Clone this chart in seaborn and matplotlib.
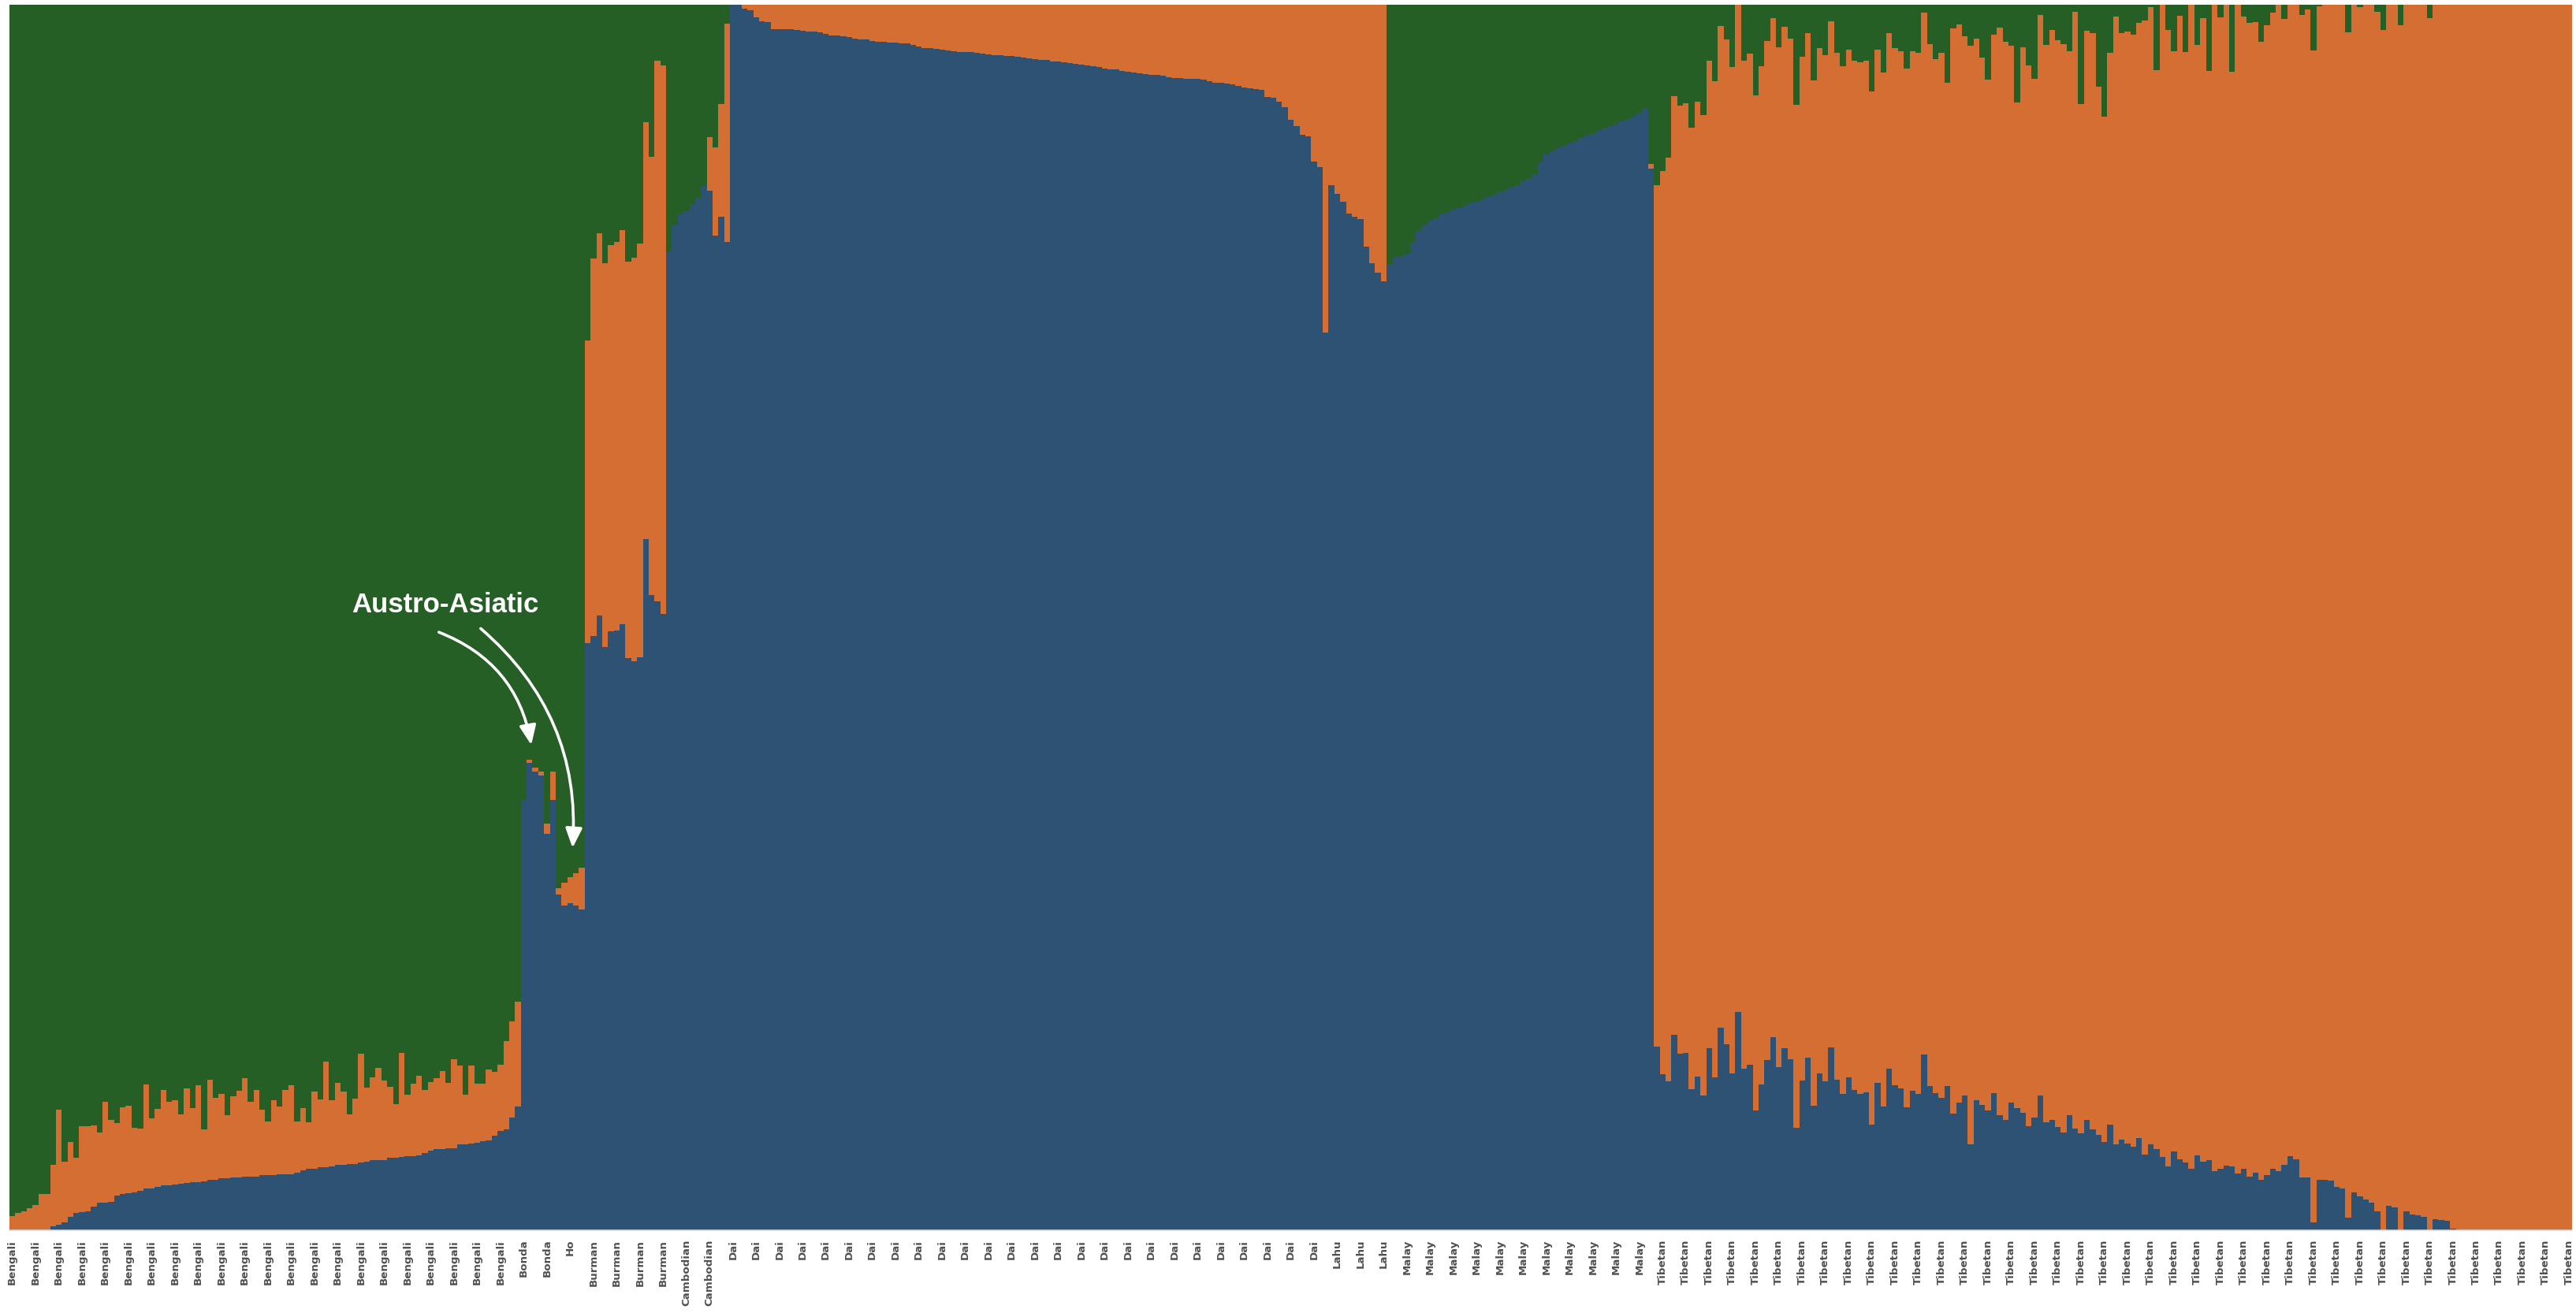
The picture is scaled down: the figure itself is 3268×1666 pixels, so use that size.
import numpy as np
import matplotlib
matplotlib.use("Agg")
import matplotlib.pyplot as plt
import seaborn as sns

# ancestry fractions: per individual, the height of the
# blue block and the height of blue+orange (green fills the rest up to 1)
bengali_blue = [0, 0, 0, 0, 0, 0, 0, 0.003, 0.0045, 0.0064, 0.011, 0.0144, 0.0148, 0.0154,
                0.0195, 0.0227, 0.0227, 0.0234, 0.0285, 0.0298, 0.0304, 0.031, 0.0324, 0.0343,
                0.0343, 0.0356, 0.0369, 0.0369, 0.0375, 0.0381, 0.0388, 0.0394, 0.0394, 0.04,
                0.0414, 0.0414, 0.0427, 0.0427, 0.0433, 0.0433, 0.0439, 0.0439, 0.0439, 0.0452,
                0.0452, 0.0452, 0.0459, 0.0459, 0.0459, 0.0471, 0.049, 0.0504, 0.0504, 0.0515,
                0.0515, 0.0521, 0.0534, 0.0534, 0.054, 0.054, 0.0553, 0.0559, 0.0572, 0.0572,
                0.0572, 0.0592, 0.0592, 0.0598, 0.0605, 0.0605, 0.0611, 0.063, 0.065, 0.0662,
                0.0662, 0.0669, 0.0669, 0.0701, 0.0701, 0.0707, 0.0714, 0.0727, 0.0733, 0.0772,
                0.081, 0.0823, 0.092, 0.101]
bengali_top = [0.0118, 0.0144, 0.0157, 0.0182, 0.0206, 0.0298, 0.0298, 0.0536, 0.0984, 0.056,
               0.072, 0.059, 0.085, 0.085, 0.0857, 0.080, 0.105, 0.090, 0.0877, 0.1005, 0.1018,
               0.0838, 0.083, 0.119, 0.0915, 0.0992, 0.1145, 0.105, 0.1063, 0.0947, 0.116, 0.0999,
               0.1185, 0.0825, 0.1228, 0.108, 0.1115, 0.094, 0.1095, 0.114, 0.1243, 0.105, 0.1147,
               0.0986, 0.0889, 0.1063, 0.1012, 0.1147, 0.1185, 0.0889, 0.0997, 0.0883, 0.1134,
               0.1068, 0.1376, 0.1061, 0.1203, 0.1132, 0.0945, 0.1074, 0.144, 0.1164, 0.1248,
               0.1325, 0.1222, 0.117, 0.1029, 0.1447, 0.1106, 0.1196, 0.126, 0.1145, 0.1209,
               0.1241, 0.1299, 0.1203, 0.1396, 0.1344, 0.1106, 0.1344, 0.1196, 0.1196, 0.1312,
               0.1293, 0.135, 0.1543, 0.1704, 0.1865]

bonda_blue = [0.3511, 0.3816, 0.3743, 0.3711, 0.3237, 0.3511]
bonda_top = [0.3511, 0.3839, 0.3775, 0.3743, 0.3318, 0.3743]

ho_blue = [0.274, 0.265, 0.2669, 0.265, 0.2617]
ho_top = [0.2791, 0.2836, 0.2881, 0.2913, 0.2958]

burman_blue = [0.4793, 0.4849, 0.5015, 0.476, 0.4886, 0.4893, 0.4945, 0.4668, 0.4642, 0.4675,
               0.5639, 0.5185, 0.5133, 0.503]
burman_top = [0.7259, 0.7931, 0.8134, 0.789, 0.8038, 0.8064, 0.816, 0.7905, 0.7934, 0.8053,
              0.9042, 0.8758, 0.9544, 0.9503]

cambodian_blue = [0.7986, 0.82, 0.8289, 0.8318, 0.837, 0.8422, 0.8518, 0.8481, 0.8116, 0.827,
                  0.8064]
cambodian_top = [0.7986, 0.82, 0.8289, 0.8318, 0.837, 0.8422, 0.8518, 0.892, 0.8835, 0.919,
                 0.9847]

dai_blue = [1.0, 1.0, 0.9968, 0.9955, 0.9897, 0.9865, 0.9859, 0.98, 0.98, 0.98, 0.98, 0.9794,
            0.9788, 0.9781, 0.9781, 0.9775, 0.9762, 0.9749, 0.9749, 0.9743, 0.9736, 0.9723,
            0.9717, 0.9717, 0.9704, 0.9698, 0.9698, 0.9691, 0.9691, 0.9685, 0.9685, 0.9672,
            0.9659, 0.9646, 0.9646, 0.964, 0.9633, 0.9627, 0.962, 0.9614, 0.9614, 0.9614,
            0.9608, 0.9601, 0.9595, 0.959, 0.9588, 0.958, 0.958, 0.9575, 0.957, 0.9562, 0.9555,
            0.955, 0.955, 0.954, 0.9535, 0.953, 0.9525, 0.952, 0.951, 0.9505, 0.95, 0.949, 0.948,
            0.9475, 0.947, 0.946, 0.9455, 0.945, 0.944, 0.9435, 0.943, 0.9425, 0.942, 0.941,
            0.9405, 0.940, 0.9395, 0.9395, 0.9395, 0.9389, 0.9376, 0.9363, 0.9363, 0.9357,
            0.935, 0.9338, 0.9325, 0.9318, 0.9312, 0.9305, 0.9248, 0.9241, 0.9209, 0.9164,
            0.9061, 0.901, 0.8939, 0.8926, 0.872, 0.8675]
dai_top = [1.0] * len(dai_blue)

lahu_blue = [0.7325, 0.8527, 0.8457, 0.8392, 0.8296, 0.827, 0.8251, 0.8026, 0.789, 0.7813, 0.7743]
lahu_top = [1.0] * len(lahu_blue)

malay_blue = [0.7884, 0.7949, 0.7949, 0.7968, 0.8064, 0.8154, 0.82, 0.824, 0.826, 0.829, 0.831,
              0.833, 0.834, 0.836, 0.838, 0.839, 0.841, 0.843, 0.845, 0.847, 0.849, 0.851, 0.853,
              0.856, 0.858, 0.862, 0.872, 0.878, 0.881, 0.883, 0.885, 0.887, 0.889, 0.891, 0.893,
              0.895, 0.897, 0.899, 0.901, 0.903, 0.905, 0.907, 0.909, 0.912, 0.916, 0.866]
malay_top = malay_blue[:45] + [0.870]

tibetan_blue = [0.1498, 0.1273, 0.1215, 0.1595, 0.144, 0.1447, 0.1151, 0.1254, 0.11, 0.1486,
                0.1248, 0.1653, 0.1518, 0.128, 0.1781, 0.1318, 0.135, 0.0977, 0.119, 0.1389,
                0.1576, 0.1331, 0.1486, 0.1395, 0.0836, 0.1222, 0.1408, 0.1016, 0.128, 0.1215,
                0.1492, 0.1228, 0.1113, 0.1248, 0.1145, 0.1113, 0.1125, 0.0862, 0.1203, 0.101,
                0.1318, 0.1183, 0.1158, 0.1003, 0.1138, 0.1113, 0.1434, 0.1177,
                0.112, 0.108, 0.118, 0.095, 0.104, 0.11, 0.07, 0.106, 0.102, 0.098, 0.112, 0.094,
                0.09, 0.104, 0.1, 0.096, 0.085, 0.092, 0.11, 0.088, 0.09, 0.084, 0.08, 0.094,
                0.083, 0.079, 0.09, 0.082, 0.078, 0.072, 0.086, 0.07, 0.074, 0.071, 0.068, 0.075,
                0.062, 0.07, 0.066, 0.06, 0.052, 0.064, 0.058, 0.055, 0.05, 0.061, 0.056, 0.057,
                0.048, 0.05, 0.053, 0.052, 0.046, 0.05, 0.044, 0.047, 0.041, 0.045, 0.05, 0.048,
                0.0534, 0.0605, 0.0579, 0.0431, 0.0431, 0.0064, 0.0412,
                0.0412, 0.0405, 0.0354, 0.0341, 0.0103, 0.0309, 0.0277, 0.0251, 0.0225, 0.0154,
                0.0, 0.0199, 0.0186, 0.0, 0.0154, 0.0129, 0.0122, 0.0109, 0.0, 0.009, 0.0084,
                0.0077, 0.0013] + [0.0] * 20
tibetan_top = [0.853, 0.864, 0.875, 0.9254, 0.9179, 0.9196, 0.8997, 0.9209, 0.9102, 0.9543,
               0.9378, 0.9826, 0.9717, 0.9492, 1.0, 0.9543, 0.9601, 0.9262, 0.9498, 0.9704,
               0.9891, 0.9653, 0.982, 0.9723, 0.9185, 0.9576, 0.9768, 0.9385, 0.9646, 0.9588,
               0.9865, 0.9608, 0.9501, 0.9633, 0.9543, 0.953, 0.9543, 0.9295, 0.9633, 0.9449,
               0.9768, 0.9646, 0.962, 0.9481, 0.962, 0.9608, 0.9936, 0.9678, 0.9556, 0.9608,
               0.9365, 0.9807, 0.9839, 0.9743, 0.9668, 0.9723, 0.9571, 0.9391, 0.9758, 0.9813,
               0.97, 0.9668, 0.9205, 0.9653, 0.9505, 0.9398, 0.9916, 0.9674, 0.9794, 0.971,
               0.968, 0.9623, 0.9942, 0.9192, 0.9788, 0.9768, 0.9333, 0.9089, 0.9608, 0.9904,
               0.9768, 0.9781, 0.9758, 0.9852, 0.9873, 0.9981, 0.9466, 1.0, 0.9794, 0.9623,
               0.991, 0.9614, 1.0, 0.9674, 0.9891, 0.9462, 1.0, 0.9899, 1.0, 0.9456,
               1.0, 0.9904, 0.9854, 0.9859, 0.97, 0.9835, 0.9938, 1.0, 0.9886, 1.0,
               1.0, 0.9918, 0.9961, 0.9629, 0.9987, 1.0, 1.0, 1.0, 1.0, 0.9777,
               1.0, 0.9983, 1.0, 1.0, 0.9944, 0.9796, 1.0, 1.0, 0.9835, 1.0,
               1.0, 1.0, 1.0, 0.9893, 1.0, 1.0, 1.0, 1.0, 1.0, 1.0] + [1.0] * 18

groups = [("Bengali", bengali_blue, bengali_top),
          ("Bonda", bonda_blue, bonda_top),
          ("Ho", ho_blue, ho_top),
          ("Burman", burman_blue, burman_top),
          ("Cambodian", cambodian_blue, cambodian_top),
          ("Dai", dai_blue, dai_top),
          ("Lahu", lahu_blue, lahu_top),
          ("Malay", malay_blue, malay_top),
          ("Tibetan", tibetan_blue, tibetan_top)]

blue_col = "#2e5274"
orange_col = "#d46e33"
green_col = "#265f26"

pops, blue, top = [], [], []
for name, b, t in groups:
    pops += [name] * len(b)
    blue += b
    top += t
blue = np.array(blue)
top = np.maximum(np.array(top), blue)
ind = np.arange(len(pops))

W, H = 3268, 1666
fig = plt.figure(figsize=(W / 100, H / 100), dpi=100)
ax = fig.add_axes([12 / W, (H - 1561) / H, 3251 / W, 1555 / H])

# stacked bars: draw cumulative heights back to front
bar_kw = dict(width=1, linewidth=0, saturation=1, errorbar=None, antialiased=False, ax=ax)
sns.barplot(x=ind, y=np.ones(len(ind)), color=green_col, **bar_kw)
sns.barplot(x=ind, y=top, color=orange_col, **bar_kw)
sns.barplot(x=ind, y=blue, color=blue_col, **bar_kw)

ax.set_xlim(-0.5, len(ind) - 0.5)
ax.set_ylim(0, 1)
ax.set_yticks([])
ax.set_xlabel("")
ax.set_ylabel("")
ax.set_xticks(ind[::4])
ax.set_xticklabels(pops[::4], rotation=90, fontsize=9.6, fontweight="bold",
                   color="#505050", fontfamily="DejaVu Sans")
ax.tick_params(axis="x", length=0, pad=8.5)
for s in ["top", "left", "right"]:
    ax.spines[s].set_visible(False)
ax.spines["bottom"].set_color("#d3dbe3")
ax.spines["bottom"].set_linewidth(1.2)

ax.text(74.5, 0.5106, "Austro-Asiatic", color="white", fontsize=25, fontweight="bold",
        fontfamily="Liberation Sans", ha="center", va="center")
arrow = dict(arrowstyle="-|>,head_length=0.75,head_width=0.32", color="white", lw=2.6,
             mutation_scale=20, shrinkA=0, shrinkB=0)
ax.annotate("", xy=(89.3, 0.396), xytext=(73.4, 0.488),
            arrowprops=dict(connectionstyle="arc3,rad=-0.28", **arrow))
ax.annotate("", xy=(96.4, 0.312), xytext=(80.6, 0.491),
            arrowprops=dict(connectionstyle="arc3,rad=-0.25", **arrow))

fig.savefig("out.png", dpi=100)
